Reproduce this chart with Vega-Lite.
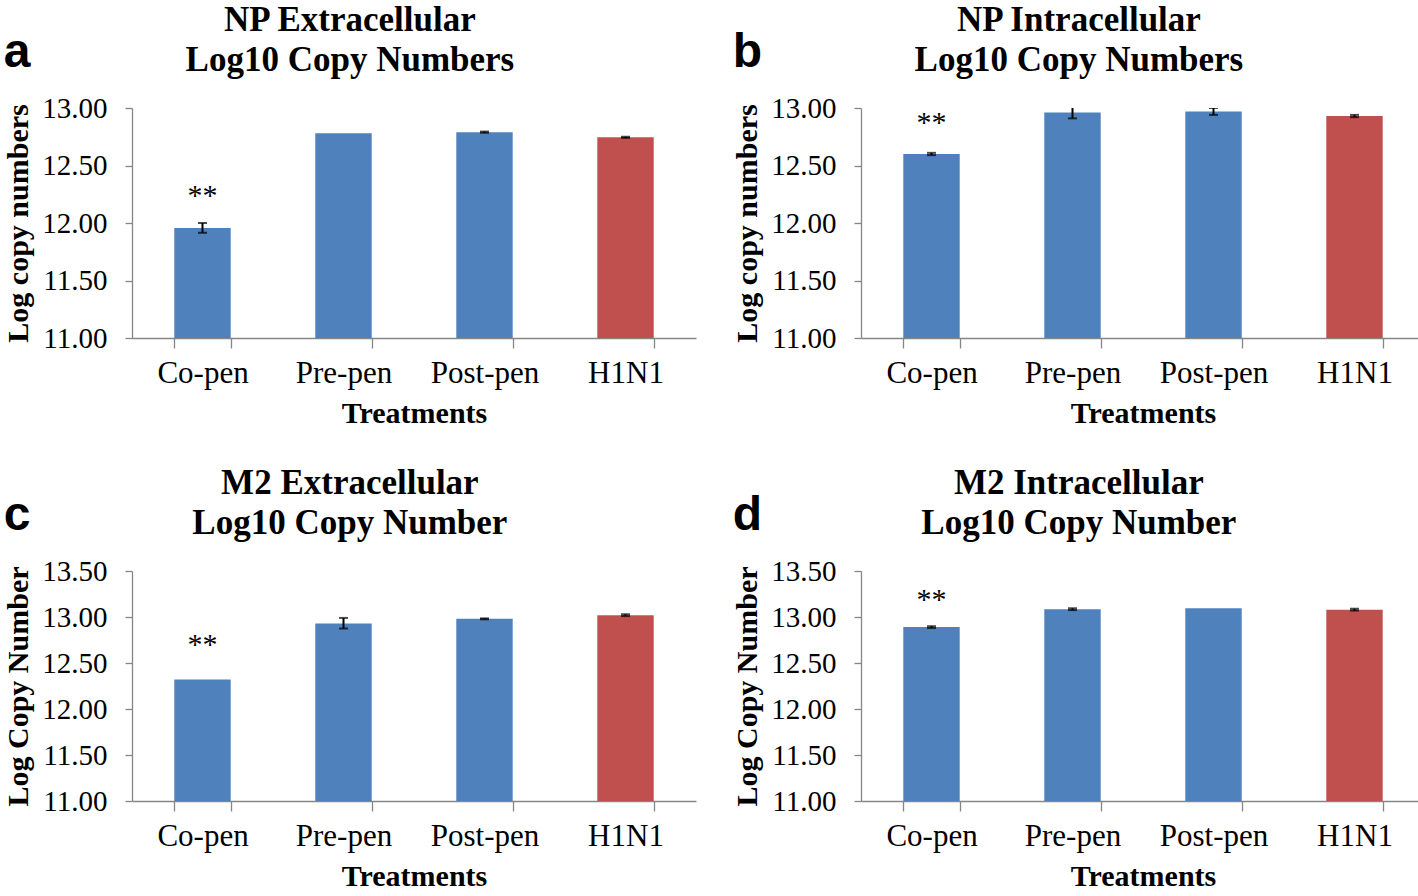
{
  "$schema": "https://vega.github.io/schema/vega-lite/v6.json",
  "padding": {"left": 3, "top": 3, "right": 0, "bottom": 0},
  "background": "white",
  "datasets": {
    "bars": [
      {"panel": "a", "treatment": "Co-pen", "value": 11.957, "lo": 11.915, "hi": 12.0},
      {"panel": "a", "treatment": "Pre-pen", "value": 12.78, "lo": null, "hi": null},
      {"panel": "a", "treatment": "Post-pen", "value": 12.79, "lo": 12.785, "hi": 12.795},
      {"panel": "a", "treatment": "H1N1", "value": 12.745, "lo": 12.74, "hi": 12.75},
      {"panel": "b", "treatment": "Co-pen", "value": 12.6, "lo": 12.59, "hi": 12.61},
      {"panel": "b", "treatment": "Pre-pen", "value": 12.96, "lo": 12.91, "hi": 13.02},
      {"panel": "b", "treatment": "Post-pen", "value": 12.97, "lo": 12.94, "hi": 13.0},
      {"panel": "b", "treatment": "H1N1", "value": 12.93, "lo": 12.92, "hi": 12.94},
      {"panel": "c", "treatment": "Co-pen", "value": 12.32, "lo": null, "hi": null},
      {"panel": "c", "treatment": "Pre-pen", "value": 12.93, "lo": 12.875, "hi": 12.99},
      {"panel": "c", "treatment": "Post-pen", "value": 12.98, "lo": 12.975, "hi": 12.985},
      {"panel": "c", "treatment": "H1N1", "value": 13.02, "lo": 13.01, "hi": 13.03},
      {"panel": "d", "treatment": "Co-pen", "value": 12.89, "lo": 12.88, "hi": 12.9},
      {"panel": "d", "treatment": "Pre-pen", "value": 13.085, "lo": 13.075, "hi": 13.095},
      {"panel": "d", "treatment": "Post-pen", "value": 13.095, "lo": null, "hi": null},
      {"panel": "d", "treatment": "H1N1", "value": 13.08, "lo": 13.07, "hi": 13.09}
    ],
    "stars": [
      {"panel": "a", "treatment": "Co-pen", "label": "**", "value": 12.29},
      {"panel": "b", "treatment": "Co-pen", "label": "**", "value": 12.92},
      {"panel": "c", "treatment": "Co-pen", "label": "**", "value": 12.76},
      {"panel": "d", "treatment": "Co-pen", "label": "**", "value": 13.25}
    ]
  },
  "config": {
    "view": {"stroke": null},
    "axis": {
      "domainColor": "#868686", "tickColor": "#868686", "domainWidth": 1.3, "tickWidth": 1.3,
      "labelColor": "#000000", "titleColor": "#000000",
      "labelFont": "Liberation Serif", "titleFont": "Liberation Serif",
      "titleFontWeight": "bold", "titleFontSize": 30, "grid": false
    },
    "axisX": {"labelFontSize": 31, "labelAngle": 0, "tickBand": "extent", "tickSize": 10, "labelPadding": 10, "titlePadding": 10},
    "axisY": {"labelFontSize": 29, "tickSize": 7, "labelPadding": 18, "titlePadding": 8, "format": ".2f"}
  },
  "spacing": 38,
  "vconcat": [
    {
      "spacing": 36,
      "hconcat": [
        {
          "title": {"text": "a", "anchor": "start", "frame": "bounds", "font": "Liberation Sans", "fontSize": 48, "fontWeight": "bold", "baseline": "alphabetic", "offset": -112, "color": "#000000"},
          "vconcat": [{
            "width": 564, "height": 230,
            "title": {"text": ["NP Extracellular", "Log10 Copy Numbers"], "anchor": "middle", "frame": "bounds", "font": "Liberation Serif", "fontSize": 35, "fontWeight": "bold", "lineHeight": 40, "offset": 16, "color": "#000000"},
            "encoding": {"x": {"field": "treatment", "type": "nominal", "sort": ["Co-pen", "Pre-pen", "Post-pen", "H1N1"], "scale": {"paddingInner": 0.6, "paddingOuter": 0.3}, "title": "Treatments"}},
            "layer": [
              {"data": {"name": "bars"}, "transform": [{"filter": "datum.panel === 'a'"}], "mark": {"type": "bar"},
               "encoding": {"y": {"field": "value", "type": "quantitative", "title": "Log copy numbers", "scale": {"domain": [11, 13], "zero": false, "nice": false}, "axis": {"values": [11, 11.5, 12, 12.5, 13]}}, "y2": {"datum": 11},
                 "color": {"field": "treatment", "type": "nominal", "scale": {"domain": ["Co-pen", "Pre-pen", "Post-pen", "H1N1"], "range": ["#4F81BD", "#4F81BD", "#4F81BD", "#C0504D"]}, "legend": null}}},
              {"data": {"name": "bars"}, "transform": [{"filter": "datum.panel === 'a' && isValid(datum.lo)"}], "mark": {"type": "rule", "color": "#000000", "strokeWidth": 2, "clip": true},
               "encoding": {"y": {"field": "lo", "type": "quantitative", "title": "Log copy numbers"}, "y2": {"field": "hi"}}},
              {"data": {"name": "bars"}, "transform": [{"filter": "datum.panel === 'a' && isValid(datum.lo)"}], "mark": {"type": "tick", "color": "#000000", "thickness": 2, "size": 9, "clip": true},
               "encoding": {"y": {"field": "lo", "type": "quantitative", "title": "Log copy numbers"}}},
              {"data": {"name": "bars"}, "transform": [{"filter": "datum.panel === 'a' && isValid(datum.lo)"}], "mark": {"type": "tick", "color": "#000000", "thickness": 2, "size": 9, "clip": true},
               "encoding": {"y": {"field": "hi", "type": "quantitative", "title": "Log copy numbers"}}},
              {"data": {"name": "stars"}, "transform": [{"filter": "datum.panel === 'a'"}], "mark": {"type": "text", "font": "Liberation Serif", "fontSize": 30, "dy": 6, "color": "#000000"},
               "encoding": {"y": {"field": "value", "type": "quantitative", "title": "Log copy numbers"}, "text": {"field": "label"}}}
            ]
          }]
        },
        {
          "title": {"text": "b", "anchor": "start", "frame": "bounds", "font": "Liberation Sans", "fontSize": 48, "fontWeight": "bold", "baseline": "alphabetic", "offset": -112, "color": "#000000"},
          "vconcat": [{
            "width": 564, "height": 230,
            "title": {"text": ["NP Intracellular", "Log10 Copy Numbers"], "anchor": "middle", "frame": "bounds", "font": "Liberation Serif", "fontSize": 35, "fontWeight": "bold", "lineHeight": 40, "offset": 16, "color": "#000000"},
            "encoding": {"x": {"field": "treatment", "type": "nominal", "sort": ["Co-pen", "Pre-pen", "Post-pen", "H1N1"], "scale": {"paddingInner": 0.6, "paddingOuter": 0.3}, "title": "Treatments"}},
            "layer": [
              {"data": {"name": "bars"}, "transform": [{"filter": "datum.panel === 'b'"}], "mark": {"type": "bar"},
               "encoding": {"y": {"field": "value", "type": "quantitative", "title": "Log copy numbers", "scale": {"domain": [11, 13], "zero": false, "nice": false}, "axis": {"values": [11, 11.5, 12, 12.5, 13]}}, "y2": {"datum": 11},
                 "color": {"field": "treatment", "type": "nominal", "scale": {"domain": ["Co-pen", "Pre-pen", "Post-pen", "H1N1"], "range": ["#4F81BD", "#4F81BD", "#4F81BD", "#C0504D"]}, "legend": null}}},
              {"data": {"name": "bars"}, "transform": [{"filter": "datum.panel === 'b' && isValid(datum.lo)"}], "mark": {"type": "rule", "color": "#000000", "strokeWidth": 2, "clip": true},
               "encoding": {"y": {"field": "lo", "type": "quantitative", "title": "Log copy numbers"}, "y2": {"field": "hi"}}},
              {"data": {"name": "bars"}, "transform": [{"filter": "datum.panel === 'b' && isValid(datum.lo)"}], "mark": {"type": "tick", "color": "#000000", "thickness": 2, "size": 9, "clip": true},
               "encoding": {"y": {"field": "lo", "type": "quantitative", "title": "Log copy numbers"}}},
              {"data": {"name": "bars"}, "transform": [{"filter": "datum.panel === 'b' && isValid(datum.lo)"}], "mark": {"type": "tick", "color": "#000000", "thickness": 2, "size": 9, "clip": true},
               "encoding": {"y": {"field": "hi", "type": "quantitative", "title": "Log copy numbers"}}},
              {"data": {"name": "stars"}, "transform": [{"filter": "datum.panel === 'b'"}], "mark": {"type": "text", "font": "Liberation Serif", "fontSize": 30, "dy": 6, "color": "#000000"},
               "encoding": {"y": {"field": "value", "type": "quantitative", "title": "Log copy numbers"}, "text": {"field": "label"}}}
            ]
          }]
        }
      ]
    },
    {
      "spacing": 36,
      "hconcat": [
        {
          "title": {"text": "c", "anchor": "start", "frame": "bounds", "font": "Liberation Sans", "fontSize": 48, "fontWeight": "bold", "baseline": "alphabetic", "offset": -112, "color": "#000000"},
          "vconcat": [{
            "width": 564, "height": 230,
            "title": {"text": ["M2 Extracellular", "Log10 Copy Number"], "anchor": "middle", "frame": "bounds", "font": "Liberation Serif", "fontSize": 35, "fontWeight": "bold", "lineHeight": 40, "offset": 16, "color": "#000000"},
            "encoding": {"x": {"field": "treatment", "type": "nominal", "sort": ["Co-pen", "Pre-pen", "Post-pen", "H1N1"], "scale": {"paddingInner": 0.6, "paddingOuter": 0.3}, "title": "Treatments"}},
            "layer": [
              {"data": {"name": "bars"}, "transform": [{"filter": "datum.panel === 'c'"}], "mark": {"type": "bar"},
               "encoding": {"y": {"field": "value", "type": "quantitative", "title": "Log Copy Number", "scale": {"domain": [11, 13.5], "zero": false, "nice": false}, "axis": {"values": [11, 11.5, 12, 12.5, 13, 13.5]}}, "y2": {"datum": 11},
                 "color": {"field": "treatment", "type": "nominal", "scale": {"domain": ["Co-pen", "Pre-pen", "Post-pen", "H1N1"], "range": ["#4F81BD", "#4F81BD", "#4F81BD", "#C0504D"]}, "legend": null}}},
              {"data": {"name": "bars"}, "transform": [{"filter": "datum.panel === 'c' && isValid(datum.lo)"}], "mark": {"type": "rule", "color": "#000000", "strokeWidth": 2, "clip": true},
               "encoding": {"y": {"field": "lo", "type": "quantitative", "title": "Log Copy Number"}, "y2": {"field": "hi"}}},
              {"data": {"name": "bars"}, "transform": [{"filter": "datum.panel === 'c' && isValid(datum.lo)"}], "mark": {"type": "tick", "color": "#000000", "thickness": 2, "size": 9, "clip": true},
               "encoding": {"y": {"field": "lo", "type": "quantitative", "title": "Log Copy Number"}}},
              {"data": {"name": "bars"}, "transform": [{"filter": "datum.panel === 'c' && isValid(datum.lo)"}], "mark": {"type": "tick", "color": "#000000", "thickness": 2, "size": 9, "clip": true},
               "encoding": {"y": {"field": "hi", "type": "quantitative", "title": "Log Copy Number"}}},
              {"data": {"name": "stars"}, "transform": [{"filter": "datum.panel === 'c'"}], "mark": {"type": "text", "font": "Liberation Serif", "fontSize": 30, "dy": 6, "color": "#000000"},
               "encoding": {"y": {"field": "value", "type": "quantitative", "title": "Log Copy Number"}, "text": {"field": "label"}}}
            ]
          }]
        },
        {
          "title": {"text": "d", "anchor": "start", "frame": "bounds", "font": "Liberation Sans", "fontSize": 48, "fontWeight": "bold", "baseline": "alphabetic", "offset": -112, "color": "#000000"},
          "vconcat": [{
            "width": 564, "height": 230,
            "title": {"text": ["M2 Intracellular", "Log10 Copy Number"], "anchor": "middle", "frame": "bounds", "font": "Liberation Serif", "fontSize": 35, "fontWeight": "bold", "lineHeight": 40, "offset": 16, "color": "#000000"},
            "encoding": {"x": {"field": "treatment", "type": "nominal", "sort": ["Co-pen", "Pre-pen", "Post-pen", "H1N1"], "scale": {"paddingInner": 0.6, "paddingOuter": 0.3}, "title": "Treatments"}},
            "layer": [
              {"data": {"name": "bars"}, "transform": [{"filter": "datum.panel === 'd'"}], "mark": {"type": "bar"},
               "encoding": {"y": {"field": "value", "type": "quantitative", "title": "Log Copy Number", "scale": {"domain": [11, 13.5], "zero": false, "nice": false}, "axis": {"values": [11, 11.5, 12, 12.5, 13, 13.5]}}, "y2": {"datum": 11},
                 "color": {"field": "treatment", "type": "nominal", "scale": {"domain": ["Co-pen", "Pre-pen", "Post-pen", "H1N1"], "range": ["#4F81BD", "#4F81BD", "#4F81BD", "#C0504D"]}, "legend": null}}},
              {"data": {"name": "bars"}, "transform": [{"filter": "datum.panel === 'd' && isValid(datum.lo)"}], "mark": {"type": "rule", "color": "#000000", "strokeWidth": 2, "clip": true},
               "encoding": {"y": {"field": "lo", "type": "quantitative", "title": "Log Copy Number"}, "y2": {"field": "hi"}}},
              {"data": {"name": "bars"}, "transform": [{"filter": "datum.panel === 'd' && isValid(datum.lo)"}], "mark": {"type": "tick", "color": "#000000", "thickness": 2, "size": 9, "clip": true},
               "encoding": {"y": {"field": "lo", "type": "quantitative", "title": "Log Copy Number"}}},
              {"data": {"name": "bars"}, "transform": [{"filter": "datum.panel === 'd' && isValid(datum.lo)"}], "mark": {"type": "tick", "color": "#000000", "thickness": 2, "size": 9, "clip": true},
               "encoding": {"y": {"field": "hi", "type": "quantitative", "title": "Log Copy Number"}}},
              {"data": {"name": "stars"}, "transform": [{"filter": "datum.panel === 'd'"}], "mark": {"type": "text", "font": "Liberation Serif", "fontSize": 30, "dy": 6, "color": "#000000"},
               "encoding": {"y": {"field": "value", "type": "quantitative", "title": "Log Copy Number"}, "text": {"field": "label"}}}
            ]
          }]
        }
      ]
    }
  ]
}
